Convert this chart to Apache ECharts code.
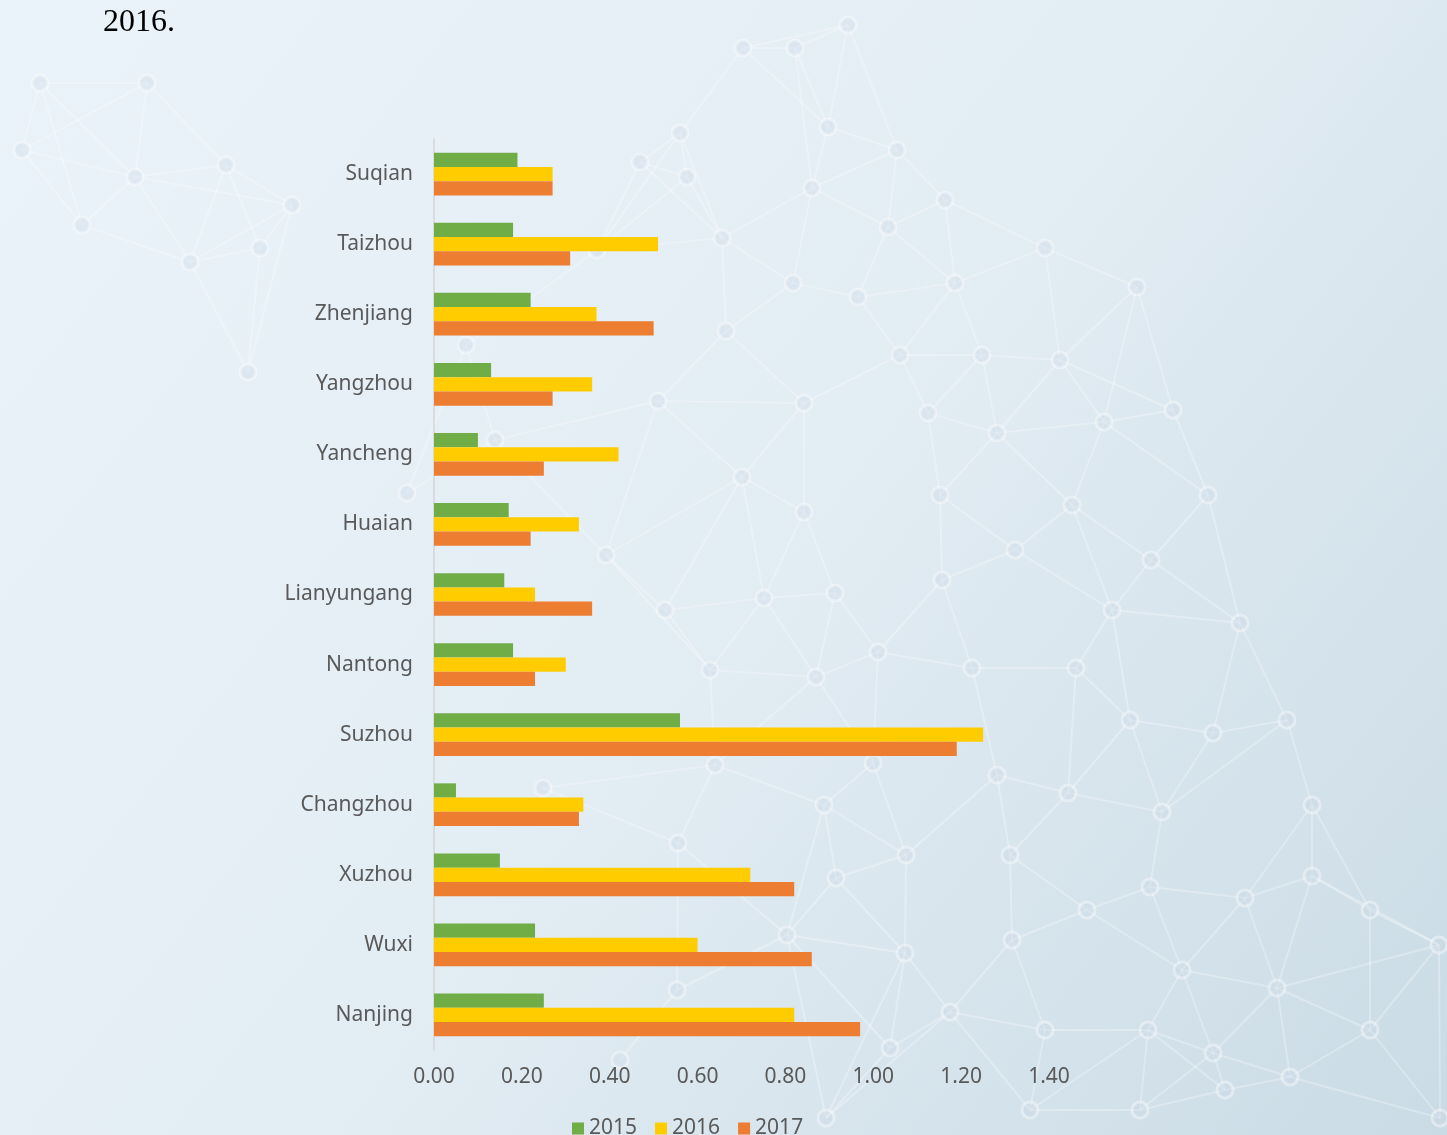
<!DOCTYPE html>
<html>
<head>
<meta charset="utf-8">
<title>Jiangsu cities 2015-2017</title>
<script src="https://cdn.jsdelivr.net/npm/echarts@6/dist/echarts.min.js"></script>
<style>
  html, body { margin: 0; padding: 0; }
  #chart { width: 1447px; height: 1135px; }
</style>
</head>
<body>
<div id="chart"></div>
<script>
// Cities, listed bottom-to-top along the category axis
const cities = ['Nanjing', 'Wuxi', 'Xuzhou', 'Changzhou', 'Suzhou', 'Nantong',
  'Lianyungang', 'Huaian', 'Yancheng', 'Yangzhou', 'Zhenjiang', 'Taizhou', 'Suqian'];

const years = ['2015', '2016', '2017'];

const values2015 = [0.25, 0.23, 0.15, 0.05, 0.56, 0.18, 0.16, 0.17, 0.10, 0.13, 0.22, 0.18, 0.19];
const values2016 = [0.82, 0.60, 0.72, 0.34, 1.25, 0.30, 0.23, 0.33, 0.42, 0.36, 0.37, 0.51, 0.27];
const values2017 = [0.97, 0.86, 0.82, 0.33, 1.19, 0.23, 0.36, 0.22, 0.25, 0.27, 0.50, 0.31, 0.27];

const xTicks = [0, 0.2, 0.4, 0.6, 0.8, 1.0, 1.2, 1.4];

// Decorative mesh behind the plot (node centres in page pixels)
const meshNodes = [
  [40, 83], [147, 83], [22, 150], [135, 177], [226, 165], [82, 225], [190, 262], [260, 248],
  [292, 205], [248, 372], [848, 25], [795, 48], [743, 48], [680, 133], [828, 127], [897, 150],
  [640, 162], [687, 177], [812, 188], [945, 200], [888, 227], [722, 238], [597, 250],
  [1045, 248], [793, 283], [858, 297], [955, 283], [1137, 287], [726, 331], [900, 355],
  [982, 355], [1060, 360], [658, 401], [804, 403], [928, 413], [1173, 410], [997, 433],
  [1104, 422], [742, 477], [940, 495], [804, 512], [1072, 505], [1208, 495], [1015, 550],
  [1151, 560], [606, 555], [665, 610], [764, 598], [835, 593], [942, 580], [1112, 610],
  [1240, 623], [710, 670], [878, 652], [972, 668], [1076, 668], [816, 677], [1130, 720],
  [1213, 733], [1287, 720], [715, 765], [873, 763], [997, 775], [1068, 793], [1162, 812],
  [1312, 805], [824, 805], [678, 843], [906, 855], [1010, 855], [836, 878], [1150, 887],
  [1087, 910], [1245, 898], [1312, 876], [1370, 910], [787, 935], [905, 953], [1012, 940],
  [1182, 970], [1277, 988], [950, 1012], [1045, 1030], [1148, 1030], [1370, 1030],
  [1213, 1053], [1290, 1077], [1439, 945], [677, 990], [620, 1060], [890, 1048],
  [1225, 1090], [1140, 1110], [1030, 1110], [826, 1118], [1440, 1118], [466, 345], [495, 440],
  [407, 493], [543, 788]
];

function meshGraphics() {
  const edges = new Set();
  const els = [];
  meshNodes.forEach((p, i) => {
    const near = meshNodes
      .map((q, j) => ({ j, d: Math.hypot(p[0] - q[0], p[1] - q[1]) }))
      .filter(o => o.j !== i && o.d < 190)
      .sort((a, b) => a.d - b.d)
      .slice(0, 4);
    near.forEach(o => {
      const key = Math.min(i, o.j) + '-' + Math.max(i, o.j);
      if (!edges.has(key)) {
        edges.add(key);
        const q = meshNodes[o.j];
        els.push({
          type: 'line', silent: true, z: -10,
          shape: { x1: p[0], y1: p[1], x2: q[0], y2: q[1] },
          style: { stroke: 'rgba(255,255,255,0.28)', lineWidth: 2 }
        });
      }
    });
  });
  meshNodes.forEach(p => {
    els.push({
      type: 'circle', silent: true, z: -9,
      shape: { cx: p[0], cy: p[1], r: 8 },
      style: { fill: 'rgba(200,216,230,0.35)', stroke: 'rgba(255,255,255,0.4)', lineWidth: 3 }
    });
  });
  return els;
}

const chart = echarts.init(document.getElementById('chart'), null, { renderer: 'canvas' });

const labelFont = '"Noto Sans", "DejaVu Sans", sans-serif';
const colors = ['#70AD47', '#FFCC00', '#ED7D31'];
const seriesValues = [values2015, values2016, values2017];

chart.setOption({
  backgroundColor: {
    type: 'linear', x: 0, y: 0, x2: 1, y2: 1,
    colorStops: [
      { offset: 0, color: '#eaf3f9' },
      { offset: 0.5, color: '#e3edf4' },
      { offset: 1, color: '#cadbe5' }
    ]
  },
  animation: false,
  color: colors,
  title: {
    text: '2016.',
    left: 98, top: 2,
    textStyle: { fontFamily: '"Liberation Serif", "Times New Roman", serif', fontSize: 32, fontWeight: 'normal', color: '#000' }
  },
  graphic: meshGraphics(),
  grid: {
    left: 434, top: 139, width: 615, height: 911,
    containLabel: false, outerBoundsMode: 'none'
  },
  legend: {
    data: years,
    left: 567, top: 1113,
    icon: 'rect', itemWidth: 12, itemHeight: 12, itemGap: 18,
    textStyle: { fontFamily: labelFont, fontSize: 21, color: '#595959' }
  },
  xAxis: {
    type: 'value',
    min: xTicks[0], max: xTicks[xTicks.length - 1], interval: 0.2,
    axisLine: { show: false },
    axisTick: { show: false },
    splitLine: { show: false },
    axisLabel: {
      margin: 17,
      fontFamily: labelFont, fontSize: 21, color: '#595959',
      formatter: v => v.toFixed(2)
    }
  },
  yAxis: {
    type: 'category',
    data: cities,
    axisLine: { show: true, lineStyle: { color: '#d3d6d9', width: 1.5 } },
    axisTick: { show: false },
    axisLabel: { margin: 21, padding: [6, 0, 0, 0], fontFamily: labelFont, fontSize: 21, color: '#595959' }
  },
  series: years.map((y, i) => ({
    name: y,
    type: 'bar',
    data: seriesValues[i],
    barGap: '0%',
    barCategoryGap: '39%',
    itemStyle: { color: colors[i] }
  }))
});
</script>
</body>
</html>
